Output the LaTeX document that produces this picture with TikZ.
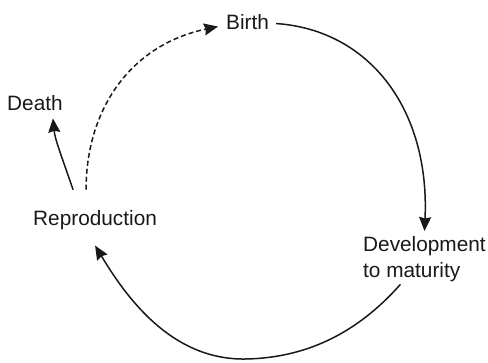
\documentclass[tikz,border=0pt]{standalone}
\usepackage{fontspec}
\setmainfont{Liberation Sans}
\usetikzlibrary{arrows.meta}
\begin{document}
\begin{tikzpicture}[x=1pt,y=-1pt,
  label/.style={inner sep=0pt,font=\fontsize{20.8}{26.5}\selectfont,text=black!90},
  link/.style={line width=1.5pt,black!90,
    -{Stealth[length=14pt,width=12pt,inset=1.5pt]}},
  dashlink/.style={link,dash pattern=on 5pt off 3pt}]
\useasboundingbox (0,0) rectangle (488,362);

% stages of the life cycle
\node[label,anchor=base west] (birth) at (226,29) {Birth};
\node[label,anchor=base west] (death) at (7,110) {Death};
\node[label,anchor=base west] (repro) at (33,225) {Reproduction};
\node[label,anchor=north west,align=left] (dev) at (363,236)
  {Development\\to maturity};

% reproduction leads to birth (dashed) and to death
\draw[dashlink] ([shift={(-9,-20)}]repro.north)
  .. controls (86,110) and (130,45) .. ([shift={(-8,5)}]birth.west);
\draw[link] ([shift={(-22,-20)}]repro.north)
  .. controls (63,160) and (55,140) .. ([shift={(18,8)}]death.south);

% birth grows to maturity
\draw[link] ([shift={(7,2)}]birth.east)
  .. controls (370,30) and (430,110) .. ([shift={(0,-5)}]dev.north);

% maturity returns to reproduction
\draw[link] ([shift={(-24,2)}]dev.south)
  .. controls (360,330) and (310,358) .. (245,359)
  .. controls (170,360) and (125,295) .. ([shift={(0,16)}]repro.south);
\end{tikzpicture}
\end{document}
